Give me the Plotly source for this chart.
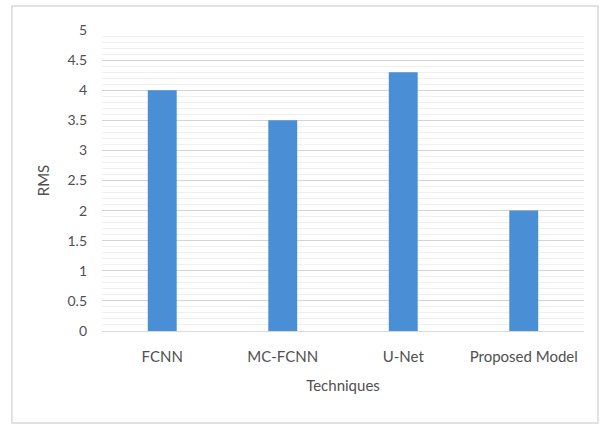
import plotly.graph_objects as go

categories = ["FCNN", "MC-FCNN", "U-Net", "Proposed Model"]
rms_values = [4.0, 3.5, 4.3, 2.0]
y_ticks = [0, 0.5, 1, 1.5, 2, 2.5, 3, 3.5, 4, 4.5, 5]
y_tick_labels = ["0", "0.5", "1", "1.5", "2", "2.5", "3", "3.5", "4", "4.5", "5"]

font_family = "Lato, Open Sans, Liberation Sans, sans-serif"
text_color = "#505050"

fig = go.Figure()
fig.add_trace(go.Bar(
    x=categories,
    y=rms_values,
    marker=dict(color="#4a8fd6", line=dict(width=0)),
    width=0.24,
))

fig.update_layout(
    width=603,
    height=426,
    margin=dict(l=102, r=19, t=30, b=95),
    paper_bgcolor="white",
    plot_bgcolor="white",
    showlegend=False,
    font=dict(family=font_family, size=14, color=text_color),
    xaxis=dict(
        title=dict(text="Techniques", font=dict(size=15, color=text_color), standoff=16),
        showgrid=False,
        showline=True,
        linecolor="#d9d9d9",
        linewidth=1,
        ticks="",
        tickfont=dict(size=15, color=text_color),
        ticklabelstandoff=12,
    ),
    yaxis=dict(
        title=dict(text="RMS", font=dict(size=15, color=text_color), standoff=14),
        range=[0, 5],
        tickvals=y_ticks,
        ticktext=y_tick_labels,
        showgrid=True,
        gridcolor="#d4d4d4",
        gridwidth=1,
        zeroline=False,
        showline=False,
        ticks="",
        tickfont=dict(size=14, color=text_color),
        ticklabelstandoff=14,
        minor=dict(dtick=0.1, showgrid=True, gridcolor="#f0f0f0", gridwidth=1),
    ),
    shapes=[dict(
        type="rect", xref="paper", yref="paper",
        x0=-0.187, x1=1.029, y0=-0.306, y1=1.080,
        line=dict(color="#d9d9d9", width=1.5),
        fillcolor="rgba(0,0,0,0)", layer="below",
    )],
)

fig.write_html("out.html")
